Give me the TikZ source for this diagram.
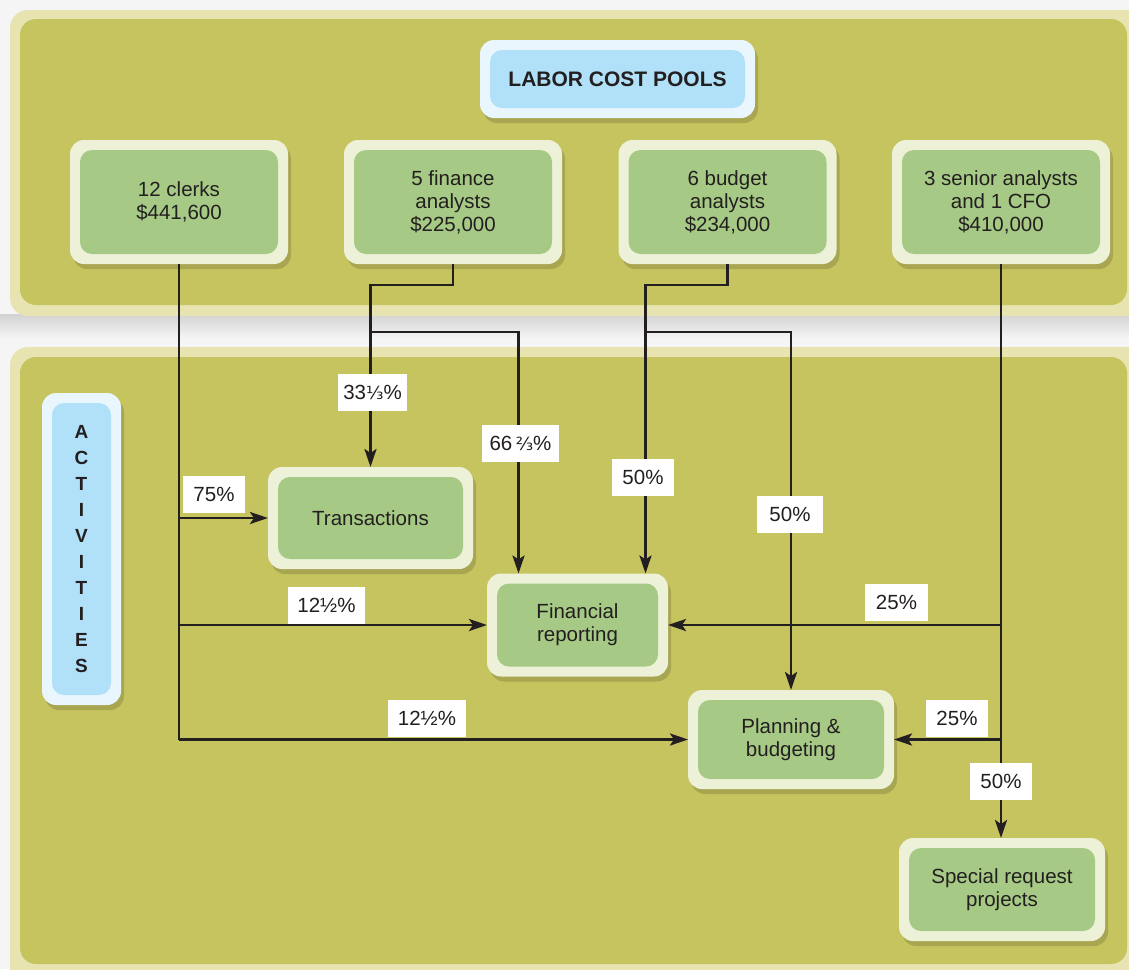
\documentclass[tikz,border=0pt]{standalone}
\usepackage{fontspec}
\setmainfont{Liberation Sans}
\newfontfamily\dejavu{DejaVu Sans}
\usetikzlibrary{arrows.meta,shadows,calc}
\definecolor{bandc}{HTML}{E8E4B2}
\definecolor{panelc}{HTML}{C6C45F}
\definecolor{creamc}{HTML}{ECF1D8}
\definecolor{greenc}{HTML}{A6CA85}
\definecolor{blueout}{HTML}{E9F6FD}
\definecolor{bluein}{HTML}{B0E1F8}
\definecolor{inkc}{HTML}{231F20}
\newcommand{\onethird}{{\dejavu\fontsize{18}{20}\selectfont ⅓}}
\newcommand{\twothirds}{{\dejavu\fontsize{18}{20}\selectfont ⅔}}
\tikzset{
  box/.style={fill=creamc, rounded corners=14pt, inner sep=0pt, outer sep=0pt,
    align=center, text=inkc, font=\fontsize{20.5}{23}\selectfont,
    drop shadow={shadow xshift=3pt, shadow yshift=-5pt, opacity=0.15, fill=black},
    path picture={\fill[greenc, rounded corners=12pt]
      ([shift={(10pt,10pt)}]path picture bounding box.south west) rectangle
      ([shift={(-10pt,-10pt)}]path picture bounding box.north east);}},
  tagbox/.style={fill=blueout, rounded corners=14pt, inner sep=0pt, outer sep=0pt,
    align=center, text=inkc, font=\bfseries\fontsize{21}{23}\selectfont,
    drop shadow={shadow xshift=3pt, shadow yshift=-5pt, opacity=0.15, fill=black},
    path picture={\fill[bluein, rounded corners=12pt]
      ([shift={(10pt,10pt)}]path picture bounding box.south west) rectangle
      ([shift={(-10pt,-10pt)}]path picture bounding box.north east);}},
  conn/.style={draw=inkc, line width=2.8pt},
  arr/.style={conn, -{Stealth[length=18pt,width=12pt,inset=4pt]}},
  pct/.style={fill=white, text=inkc, font=\fontsize{20.5}{23}\selectfont,
    inner sep=0pt, minimum height=37pt}
}
\begin{document}
\begin{tikzpicture}[x=1pt,y=-1pt]
\useasboundingbox (0,0) rectangle (1129,969);
\begin{scope}
\clip (0,0) rectangle (1129,969);
\fill[gray!8] (0,0) rectangle (1129,969);
\shade[top color=gray!35, bottom color=gray!8] (0,314) rectangle (1129,338);
% panels
\fill[bandc, rounded corners=18pt] (10,10) rectangle (1145,316);
\fill[panelc, rounded corners=16pt] (20,19) rectangle (1127,305);
\fill[bandc, rounded corners=18pt] (10,347) rectangle (1145,990);
\fill[panelc, rounded corners=16pt] (20,357) rectangle (1127,964);
\end{scope}

% nodes
\node[tagbox, minimum width=275pt, minimum height=78pt] (lcp) at (617.5,79) {LABOR COST POOLS};
\node[tagbox, minimum width=79pt, minimum height=312pt, font=\bfseries\fontsize{19}{26}\selectfont] (act) at (81.5,549)
  {A\\C\\T\\I\\V\\I\\T\\I\\E\\S};

\node[box, minimum width=218pt, minimum height=124pt] (clerks) at (179,202) {12 clerks\\\$441,600};
\node[box, minimum width=218pt, minimum height=124pt] (fin) at (453,202) {5 finance\\analysts\\\$225,000};
\node[box, minimum width=218pt, minimum height=124pt] (bud) at (727.5,202) {6 budget\\analysts\\\$234,000};
\node[box, minimum width=218pt, minimum height=124pt] (sen) at (1001,202) {3 senior analysts\\and 1 CFO\\\$410,000};

\node[box, minimum width=205pt, minimum height=102pt] (trans) at (370.5,518) {Transactions};
\node[box, minimum width=181pt, minimum height=103pt] (frep) at (577.5,625) {Financial\\reporting};
\node[box, minimum width=206pt, minimum height=99pt] (plan) at (791,739.5) {Planning \&\\budgeting};
\node[box, minimum width=206pt, minimum height=103pt] (spec) at (1002,889.5) {Special request\\projects};

% clerks
\draw[conn] (clerks.south) -- (clerks.south |- plan.west);
\draw[arr] (clerks.south |- trans.west) -- (trans.west);
\draw[arr] (clerks.south |- frep.west) -- (frep.west);
\draw[arr] (clerks.south |- plan.west) -- (plan.west);

% finance analysts
\coordinate (fa) at ($(fin.south)+(0,21)$);
\coordinate (fb) at ($(trans.north)+(0,-135)$);
\coordinate (fr) at ($(frep.north)+(-59,0)$);
\draw[arr] (fin.south) -- (fa) -| (trans.north);
\draw[arr] (fb) -| (fr);

% budget analysts
\coordinate (ba) at ($(bud.south)+(0,21)$);
\coordinate (bf) at ($(frep.north)+(68,0)$);
\coordinate (bb) at (bf |- fb);
\draw[arr] (bud.south) -- (ba) -| (bf);
\draw[arr] (bb) -| (plan.north);

% senior analysts
\draw[arr] (sen.south) -- (sen.south |- spec.north);
\draw[arr] (sen.south |- frep.east) -- (frep.east);
\draw[arr] (sen.south |- plan.east) -- (plan.east);

% percentage labels
\node[pct, minimum width=69pt] (p1) at (372.5,392.5) {33\onethird\%};
\node[pct, minimum width=77pt] (p2) at (520.5,443.5) {66\,\twothirds\%};
\node[pct, minimum width=62pt] (p3) at (214,494.5) {75\%};
\node[pct, minimum width=77pt] (p4) at (326.5,605) {12½\%};
\node[pct, minimum width=78pt] (p5) at (427,718.5) {12½\%};
\node[pct, minimum width=62pt] (p6) at (643,477) {50\%};
\node[pct, minimum width=66pt] (p7) at (790,514.5) {50\%};
\node[pct, minimum width=63pt] (p8) at (896.5,602.5) {25\%};
\node[pct, minimum width=62pt] (p9) at (957,718) {25\%};
\node[pct, minimum width=62pt] (p10) at (1001,781) {50\%};
\end{tikzpicture}
\end{document}
